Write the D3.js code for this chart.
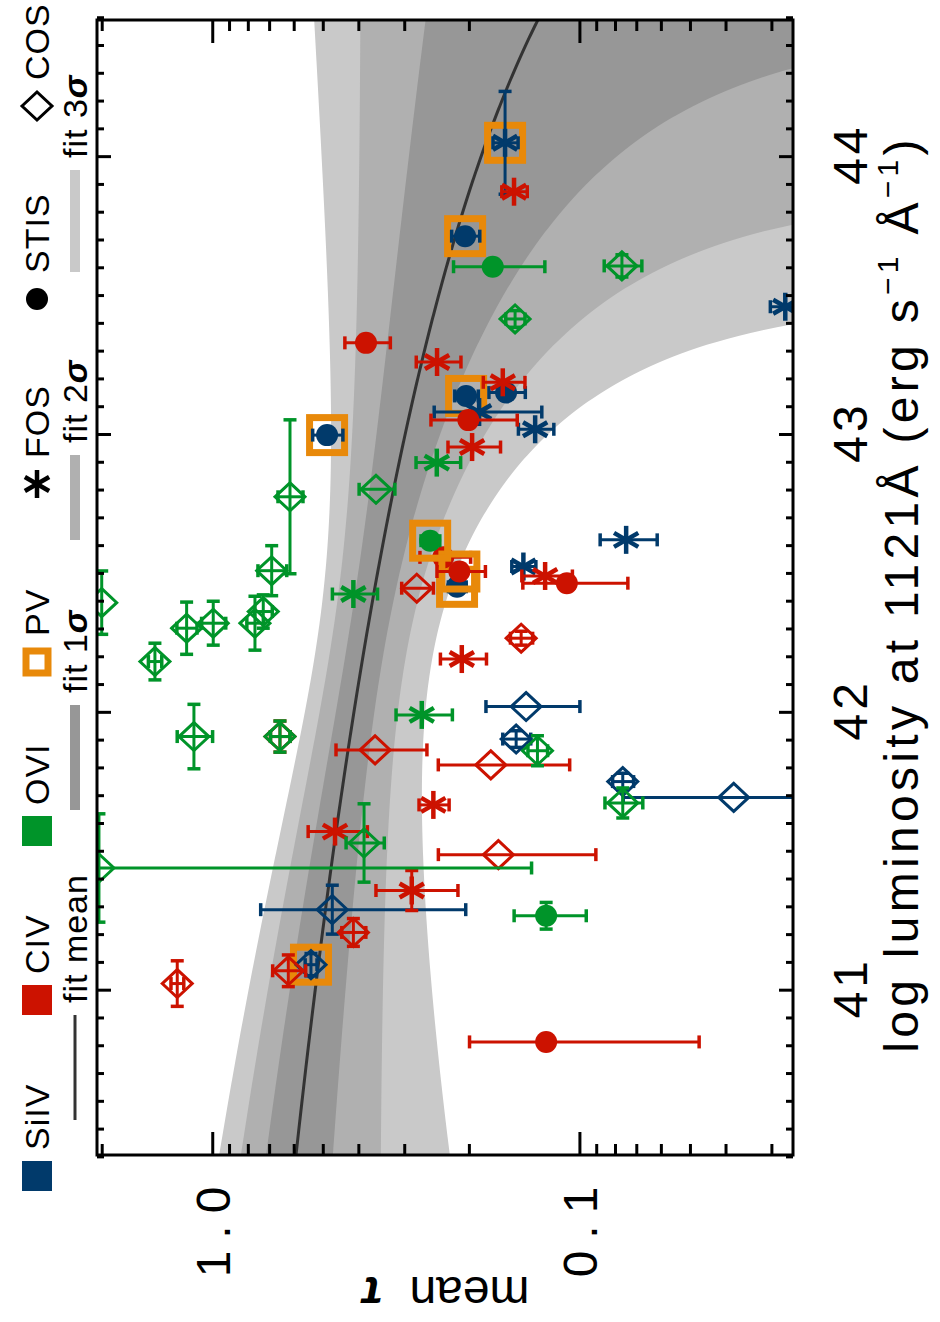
<!DOCTYPE html>
<html>
<head>
<meta charset="utf-8">
<script src="https://cdn.jsdelivr.net/npm/d3@7"></script>
<style>
  body { margin: 0; background: #fff; }
  svg { display: block; }
  text { font-family: "Liberation Sans", Arial, sans-serif; fill: #000; }
</style>
</head>
<body>
<svg id="chart" width="940" height="1322"></svg>
<script>
// ---- data: one row per measurement ----
// [instrument, log L(1121A), +/- log L, mean tau, +/- tau, PV detected]
const siivPoints = [
  ["FOS",  44.048, 0.185, 0.1594, 0.0125, 1],
  ["STIS", 43.712, 0.000, 0.2048, 0.018,  1],
  ["FOS",  43.458, 0.000, 0.0275, 0.0027, 0],
  ["STIS", 43.149, 0.000, 0.1584, 0.018,  0],
  ["STIS", 43.137, 0.000, 0.2035, 0.015,  1],
  ["FOS",  43.079, 0.000, 0.1876, 0.061,  0],
  ["FOS",  43.017, 0.000, 0.1320, 0.0146, 0],
  ["STIS", 42.996, 0.000, 0.4867, 0.046,  1],
  ["STIS", 42.450, 0.000, 0.2154, 0.012,  1],
  ["FOS",  42.523, 0.000, 0.1421, 0.0107, 0],
  ["FOS",  42.619, 0.000, 0.0746, 0.0132, 0],
  ["COS",  42.019, 0.000, 0.1397, 0.040,  0],
  ["COS",  41.902, 0.030, 0.1487, 0.013,  0],
  ["COS",  41.749, 0.030, 0.0762, 0.005,  0],
  ["COS",  41.692, 0.000, 0.0380, 0.038,  0],
  ["COS",  41.288, 0.088, 0.4710, 0.267,  0],
  ["COS",  41.090, 0.040, 0.5384, 0.020,  1]
];
const civPoints = [
  ["FOS",  43.872, 0.000, 0.1507, 0.012,  0],
  ["STIS", 43.328, 0.000, 0.3813, 0.054,  0],
  ["FOS",  43.259, 0.000, 0.2442, 0.034,  0],
  ["FOS",  43.186, 0.000, 0.1617, 0.021,  0],
  ["STIS", 43.050, 0.000, 0.2007, 0.053,  0],
  ["FOS",  42.953, 0.000, 0.1960, 0.032,  0],
  ["STIS", 42.556, 0.000, 0.2348, 0.037,  0],
  ["STIS", 42.505, 0.000, 0.2123, 0.032,  1],
  ["COS",  42.445, 0.000, 0.2773, 0.0275, 0],
  ["FOS",  42.489, 0.000, 0.1240, 0.0195, 0],
  ["STIS", 42.463, 0.000, 0.1082, 0.0344, 0],
  ["COS",  42.265, 0.025, 0.1441, 0.010,  0],
  ["FOS",  42.190, 0.000, 0.2091, 0.030,  0],
  ["COS",  41.911, 0.056, 0.6540, 0.040,  0],
  ["COS",  41.863, 0.000, 0.3602, 0.100,  0],
  ["COS",  41.809, 0.000, 0.1743, 0.068,  0],
  ["FOS",  41.665, 0.000, 0.2499, 0.0235, 0],
  ["FOS",  41.569, 0.000, 0.4630, 0.085,  0],
  ["COS",  41.486, 0.000, 0.1662, 0.076,  0],
  ["FOS",  41.357, 0.072, 0.2862, 0.072,  0],
  ["COS",  41.206, 0.050, 0.4127, 0.031,  0],
  ["COS",  41.068, 0.057, 0.6206, 0.064,  0],
  ["COS",  41.022, 0.082, 1.2454, 0.050,  0],
  ["STIS", 40.812, 0.000, 0.1232, 0.076,  0]
];
const oviPoints = [
  ["STIS", 43.602, 0.000, 0.1722, 0.048,  0],
  ["COS",  43.605, 0.040, 0.0766, 0.009,  0],
  ["COS",  43.414, 0.030, 0.1497, 0.009,  0],
  ["FOS",  42.897, 0.000, 0.2446, 0.034,  0],
  ["COS",  42.801, 0.000, 0.3581, 0.040,  0],
  ["COS",  42.774, 0.277, 0.6141, 0.048,  0],
  ["STIS", 42.616, 0.000, 0.2550, 0.015,  1],
  ["FOS",  42.424, 0.000, 0.4127, 0.058,  0],
  ["COS",  42.508, 0.090, 0.6888, 0.062,  0],
  ["COS",  42.393, 0.114, 2.0000, 0.000,  0],
  ["COS",  42.301, 0.094, 1.1743, 0.074,  0],
  ["COS",  42.319, 0.079, 0.9938, 0.075,  0],
  ["COS",  42.319, 0.097, 0.7650, 0.040,  0],
  ["COS",  42.361, 0.060, 0.7262, 0.040,  0],
  ["COS",  42.181, 0.066, 1.4325, 0.060,  0],
  ["COS",  41.911, 0.116, 1.1217, 0.124,  0],
  ["COS",  41.911, 0.056, 0.6540, 0.040,  0],
  ["FOS",  41.989, 0.000, 0.2688, 0.047,  0],
  ["COS",  41.860, 0.054, 0.1301, 0.008,  0],
  ["COS",  41.672, 0.054, 0.0762, 0.009,  0],
  ["COS",  41.528, 0.141, 0.3860, 0.046,  0],
  ["COS",  41.438, 0.195, 2.0350, 1.900,  0],
  ["STIS", 41.266, 0.048, 0.1232, 0.0274, 0]
];

// linear fit of mean tau against log L, with its 1-sigma width
const fitPivot = 42.396, fitTauAtPivot = 0.3664, fitSlope = -0.113;
const fitSigmaMin = 0.045, fitSigmaSlope = 0.0583, fitSigmaCentre = 42.35;
const bandLevels = [3, 2, 1];

// axis ticks
const tauMajor = [1, 0.1];
const tauMinor = [2, 0.9, 0.8, 0.7, 0.6, 0.5, 0.4, 0.3, 0.2, 0.09, 0.08, 0.07, 0.06, 0.05, 0.04, 0.03];
const tauLabels = ["1.0", "0.1"];
const lumMajor = [41, 42, 43, 44];

// ---- layout ----
const box = { left: 97, right: 793, top: 20, bottom: 1155 };
const ionColors = { SiIV: "#013a6b", CIV: "#cc1200", OVI: "#009429" };
const pvColor = "#e8890a";
const bandFill = { 1: "#979797", 2: "#b0b0b0", 3: "#c9c9c9" };

const svg = d3.select("#chart");

// mean tau runs left to right (log), luminosity runs bottom to top
const x = d3.scaleLog().domain([2.06, 0.0262]).range([box.left, box.right]);
const y = d3.scaleLinear().domain([40.405, 44.49]).range([box.bottom, box.top]);

svg.append("defs").append("clipPath").attr("id", "plot-clip")
  .append("rect")
  .attr("x", box.left).attr("y", box.top)
  .attr("width", box.right - box.left).attr("height", box.bottom - box.top);

const plot = svg.append("g").attr("clip-path", "url(#plot-clip)");

// fit bands
const fitMean = L => fitTauAtPivot + fitSlope * (L - fitPivot);
const fitSigma = L => Math.sqrt(fitSigmaMin ** 2 + (fitSigmaSlope * (L - fitSigmaCentre)) ** 2);
const lumGrid = d3.range(0, 401).map(i => 40.3 + i * (44.6 - 40.3) / 400);

bandLevels.forEach(k => {
  const area = d3.area()
    .y(L => y(L))
    .x0(L => x(fitMean(L) + k * fitSigma(L)))
    .x1(L => x(Math.max(fitMean(L) - k * fitSigma(L), 0.005)));
  plot.append("path").datum(lumGrid)
    .attr("d", area).attr("fill", bandFill[k]);
});

plot.append("path").datum(lumGrid)
  .attr("d", d3.line().x(L => x(fitMean(L))).y(L => y(L)))
  .attr("fill", "none").attr("stroke", "#333").attr("stroke-width", 3);

// markers
function drawMarker(g, kind, cx, cy, color) {
  if (kind === "STIS") {
    g.append("circle").attr("cx", cx).attr("cy", cy).attr("r", 11).attr("fill", color);
  } else if (kind === "COS") {
    g.append("path")
      .attr("d", `M${cx - 15},${cy}L${cx},${cy - 14}L${cx + 15},${cy}L${cx},${cy + 14}Z`)
      .attr("fill", "none").attr("stroke", color).attr("stroke-width", 3);
  } else if (kind === "FOS") {
    const r = 14;
    [90, 30, 150].forEach(a => {
      const t = a * Math.PI / 180;
      g.append("line")
        .attr("x1", cx - r * Math.cos(t)).attr("y1", cy - r * Math.sin(t))
        .attr("x2", cx + r * Math.cos(t)).attr("y2", cy + r * Math.sin(t))
        .attr("stroke", color).attr("stroke-width", 4.5);
    });
  } else if (kind === "PV") {
    g.append("rect").attr("x", cx - 17.5).attr("y", cy - 17.5)
      .attr("width", 35).attr("height", 35)
      .attr("fill", "none").attr("stroke", pvColor).attr("stroke-width", 7);
  } else if (kind === "ion") {
    g.append("rect").attr("x", cx - 15).attr("y", cy - 15)
      .attr("width", 30).attr("height", 30).attr("fill", color);
  }
}

function drawSeries(rows, color) {
  const g = plot.append("g");
  rows.forEach(([inst, L, dL, tau, dTau, pv]) => {
    const cx = x(tau), cy = y(L);
    const p = g.append("g");
    if (pv) drawMarker(p, "PV", cx, cy, color);
    if (dTau > 0) {
      const xa = x(tau + dTau), xb = x(Math.max(tau - dTau, 0.005));
      p.append("line").attr("x1", xa).attr("x2", xb).attr("y1", cy).attr("y2", cy)
        .attr("stroke", color).attr("stroke-width", 3);
      [xa, xb].forEach(xc => p.append("line").attr("x1", xc).attr("x2", xc)
        .attr("y1", cy - 6.5).attr("y2", cy + 6.5).attr("stroke", color).attr("stroke-width", 3.5));
    }
    if (dL > 0) {
      const ya = y(L + dL), yb = y(L - dL);
      p.append("line").attr("x1", cx).attr("x2", cx).attr("y1", ya).attr("y2", yb)
        .attr("stroke", color).attr("stroke-width", 3);
      [ya, yb].forEach(yc => p.append("line").attr("y1", yc).attr("y2", yc)
        .attr("x1", cx - 6.5).attr("x2", cx + 6.5).attr("stroke", color).attr("stroke-width", 3.5));
    }
    drawMarker(p, inst, cx, cy, color);
  });
}

drawSeries(siivPoints, ionColors.SiIV);
drawSeries(civPoints, ionColors.CIV);
drawSeries(oviPoints, ionColors.OVI);

// frame and ticks
const axes = svg.append("g");
function tickAxis(gen, tx, ty, values, size) {
  const g = axes.append("g").attr("transform", `translate(${tx},${ty})`)
    .call(gen.tickValues(values).tickSize(size).tickSizeOuter(0).tickFormat(""));
  g.select(".domain").remove();
  g.selectAll("line").attr("stroke", "#000").attr("stroke-width", 3);
}
tickAxis(d3.axisBottom(x), 0, box.top, tauMajor, 23);
tickAxis(d3.axisBottom(x), 0, box.top, tauMinor, 11);
tickAxis(d3.axisTop(x), 0, box.bottom, tauMajor, 23);
tickAxis(d3.axisTop(x), 0, box.bottom, tauMinor, 11);
const lumMinor = d3.range(404, 446).map(v => v / 10).filter(v => !lumMajor.includes(v));
tickAxis(d3.axisRight(y), box.left, 0, lumMajor, 14);
tickAxis(d3.axisRight(y), box.left, 0, lumMinor, 7);
tickAxis(d3.axisLeft(y), box.right, 0, lumMajor, 14);
tickAxis(d3.axisLeft(y), box.right, 0, lumMinor, 7);

svg.append("rect")
  .attr("x", box.left).attr("y", box.top)
  .attr("width", box.right - box.left).attr("height", box.bottom - box.top)
  .attr("fill", "none").attr("stroke", "#000").attr("stroke-width", 3);

// tick labels, written along the luminosity direction
tauMajor.forEach((v, i) => {
  svg.append("text")
    .attr("transform", `translate(${x(v)},1226) rotate(-90)`)
    .attr("text-anchor", "middle").attr("dy", "0.36em")
    .attr("font-size", 48).attr("letter-spacing", 12)
    .text(tauLabels[i]);
});
lumMajor.forEach(v => {
  svg.append("text")
    .attr("transform", `translate(850,${y(v) - 2}) rotate(-90)`)
    .attr("text-anchor", "middle").attr("dy", "0.36em")
    .attr("font-size", 48).attr("letter-spacing", 4)
    .text(v);
});

// axis titles
const lumTitle = svg.append("text")
  .attr("transform", `translate(901,594) rotate(-90)`)
  .attr("text-anchor", "middle").attr("dy", 17)
  .attr("font-size", 48).attr("letter-spacing", 4.3);
lumTitle.append("tspan").text("log luminosity at 1121Å (erg s");
lumTitle.append("tspan").attr("dy", -20).attr("font-size", 30).text("−1");
lumTitle.append("tspan").attr("dy", 20).text(" Å");
lumTitle.append("tspan").attr("dy", -20).attr("font-size", 30).text("−1");
lumTitle.append("tspan").attr("dy", 20).text(")");

const tauTitle = svg.append("text")
  .attr("transform", `translate(446,1294) rotate(180)`)
  .attr("text-anchor", "middle").attr("dy", "0.36em")
  .attr("font-size", 48);
tauTitle.append("tspan").text("mean ");
tauTitle.append("tspan").attr("font-style", "italic")
  .attr("font-weight", "bold").attr("dx", 14).text("τ");

// legend, written along the luminosity direction
const legend = svg.append("g");
const ionLegend = [
  { label: "SiIV", kind: "ion", color: ionColors.SiIV, pos: 1176 },
  { label: "CIV",  kind: "ion", color: ionColors.CIV,  pos: 1000 },
  { label: "OVI",  kind: "ion", color: ionColors.OVI,  pos: 831 },
  { label: "PV",   kind: "PVkey", color: pvColor,      pos: 662 },
  { label: "FOS",  kind: "FOS", color: "#000",         pos: 484 },
  { label: "STIS", kind: "STIS", color: "#000",        pos: 299 },
  { label: "COS",  kind: "COS", color: "#000",         pos: 106 }
];
ionLegend.forEach(d => {
  if (d.kind === "PVkey") {
    legend.append("rect").attr("x", 26).attr("y", d.pos - 11).attr("width", 22).attr("height", 22)
      .attr("fill", "none").attr("stroke", pvColor).attr("stroke-width", 7);
  } else {
    drawMarker(legend, d.kind, 37, d.pos, d.color);
  }
  legend.append("text")
    .attr("transform", `translate(37,${d.pos - 26}) rotate(-90)`)
    .attr("dy", "0.36em").attr("font-size", 34).attr("letter-spacing", 1)
    .text(d.label);
});

const fitLegend = [
  { label: "fit mean", sigma: "",  level: 0, from: 1120, to: 1015 },
  { label: "fit 1",    sigma: "σ", level: 1, from: 810,  to: 705 },
  { label: "fit 2",    sigma: "σ", level: 2, from: 540,  to: 455 },
  { label: "fit 3",    sigma: "σ", level: 3, from: 272,  to: 170 }
];
fitLegend.forEach(d => {
  if (d.level === 0) {
    legend.append("line").attr("x1", 75).attr("x2", 75).attr("y1", d.from).attr("y2", d.to)
      .attr("stroke", "#333").attr("stroke-width", 3);
  } else {
    legend.append("rect").attr("x", 70).attr("width", 10)
      .attr("y", d.to).attr("height", d.from - d.to).attr("fill", bandFill[d.level]);
  }
  const t = legend.append("text")
    .attr("transform", `translate(75,${d.to - 12}) rotate(-90)`)
    .attr("dy", "0.36em").attr("font-size", 34).attr("letter-spacing", 1);
  t.append("tspan").text(d.label);
  if (d.sigma) t.append("tspan").attr("font-weight", "bold").attr("font-style", "italic").text(d.sigma);
});
</script>
</body>
</html>
